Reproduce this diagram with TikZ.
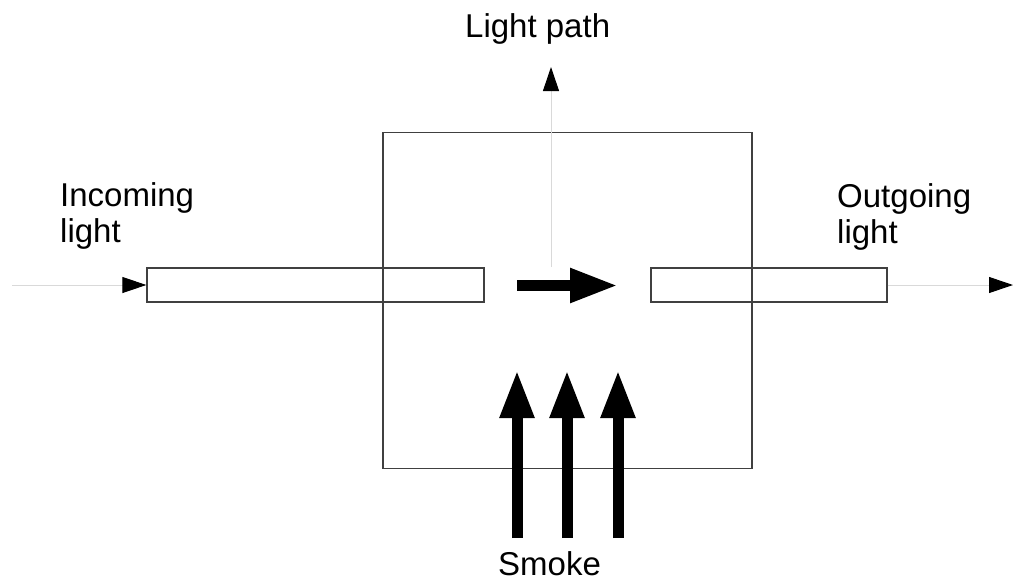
\documentclass[tikz,border=0pt]{standalone}
\usepackage{fontspec}
\setmainfont{Liberation Sans}
\usetikzlibrary{arrows.meta}
\tikzset{
  wall/.style={draw=black!75, line width=1.3pt, rectangle, inner sep=0pt},
  tube/.style={wall, minimum height=34pt},
  beam/.style={draw=black!15, line width=1pt, -{Triangle[length=24pt,width=16pt,color=black]}},
  flow/.style={line width=11pt, -{Triangle[length=48pt,width=32pt]}},
  lbl/.style={inner sep=0pt, align=left, anchor=north west, font=\fontsize{33}{36}\selectfont}
}
\begin{document}
\begin{tikzpicture}[x=1pt,y=-1pt]
  \useasboundingbox (0,0) rectangle (1013,582);
  % chamber and the two tubes
  \node[wall, minimum width=369pt, minimum height=336pt] (chamber) at (567.5,300.5) {};
  \node[tube, minimum width=337pt] (tubeL) at (315.5,285) {};
  \node[tube, minimum width=236pt] (tubeR) at (769,285) {};

  % light in and out
  \coordinate (src) at (12,285);
  \coordinate (sink) at (1013,285);
  \draw[beam] (src) -- (tubeL.west);
  \draw[beam] (tubeR.east) -- (sink);

  % light path
  \coordinate (lpfoot) at (551,267);
  \coordinate (lptip) at (551,67);
  \draw[beam] (lpfoot) -- (lptip);

  % flow arrows
  \draw[flow] (517,285.5) -- (618,285.5);
  \foreach \x in {517,567,618}
    \draw[flow] (\x,538) -- (\x,370);

  % labels
  \node[lbl] (incoming) at (60,182) {Incoming\\light};
  \node[lbl] (outgoing) at (837,183) {Outgoing\\light};
  \node[lbl] (lightpath) at (465,13) {Light path};
  \node[lbl] (smoke) at (498,551) {Smoke};
\end{tikzpicture}
\end{document}
